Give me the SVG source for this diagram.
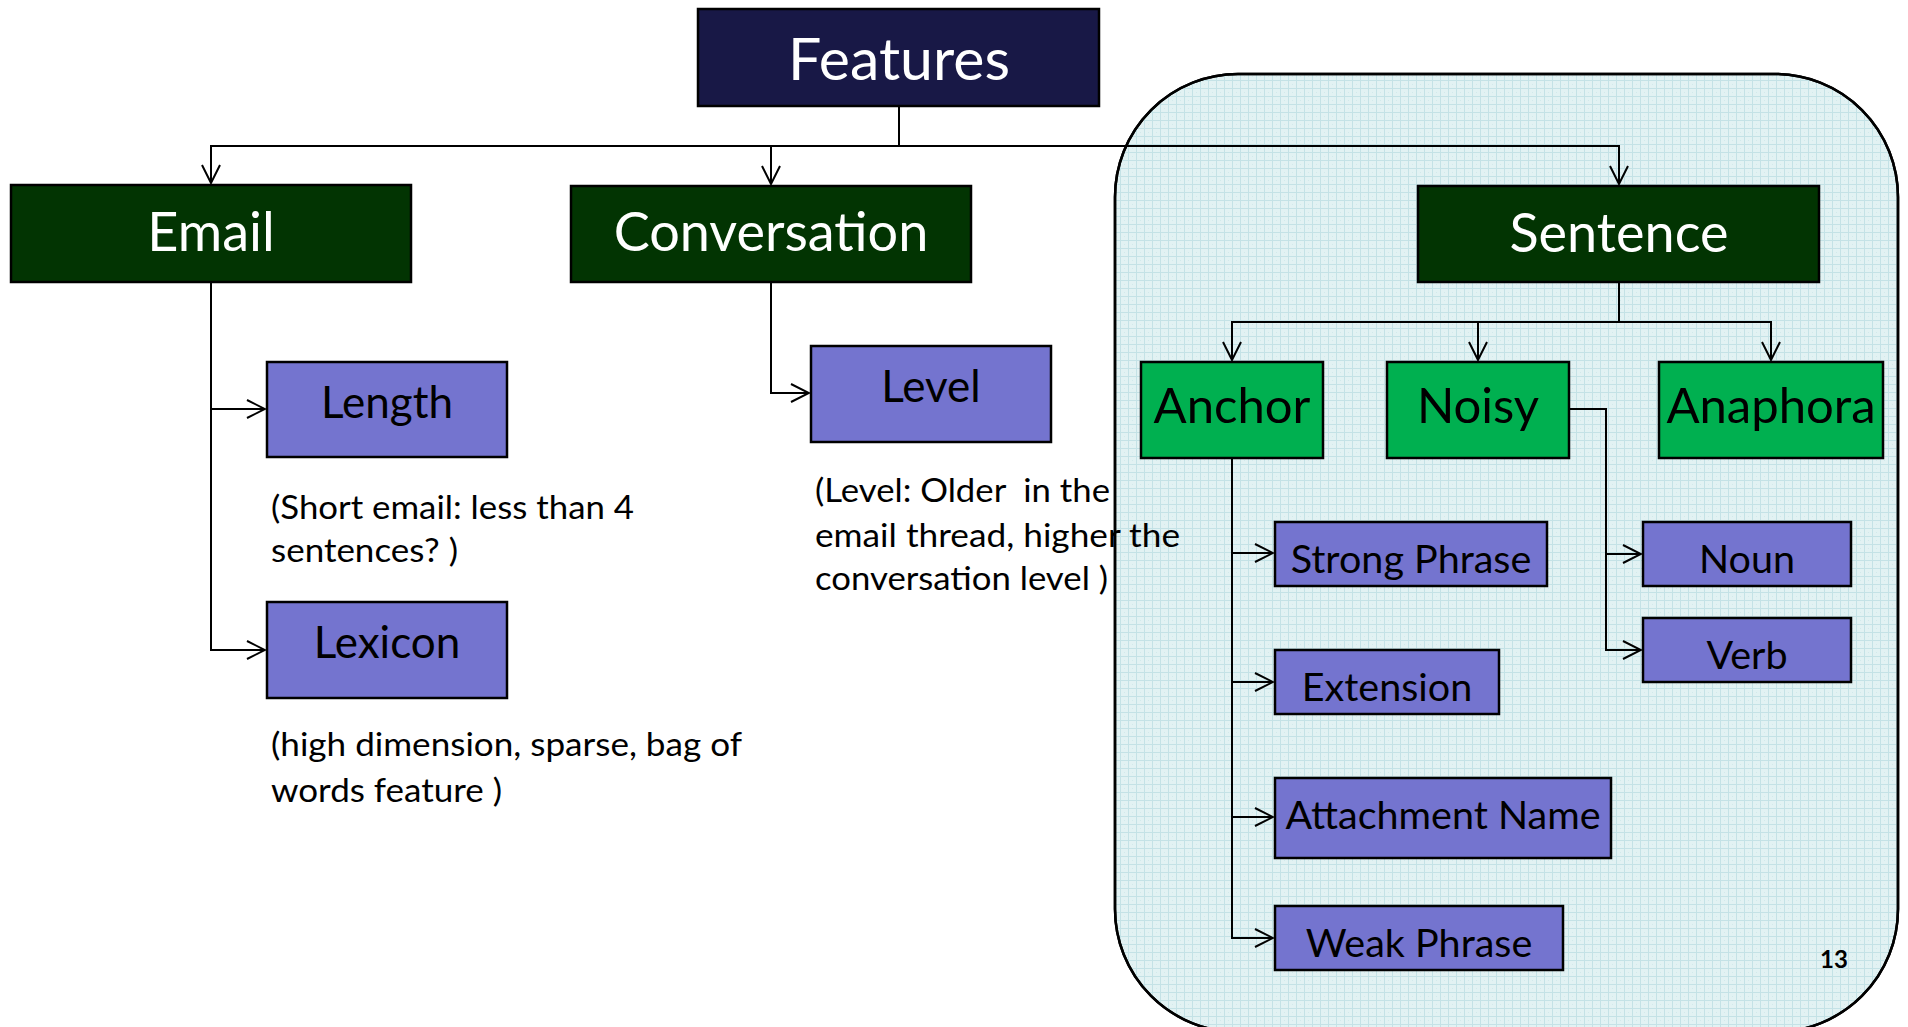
<svg xmlns="http://www.w3.org/2000/svg" width="1908" height="1027" viewBox="0 0 1908 1027">
<style>
.b{stroke:#000;stroke-width:2.5}
.top{fill:#181846}
.dg{fill:#023402}
.lg{fill:#00b050}
.pu{fill:#7474cf}
.t{font-family:Lato,"Open Sans",sans-serif;text-anchor:middle}
.w{fill:#fff}
.k{fill:#000}
.ann{font-family:Lato,"Open Sans",sans-serif;font-size:33px;fill:#000}
.c{fill:none;stroke:#000;stroke-width:2}
</style>
<defs>
<pattern id="grid" width="8" height="8" patternUnits="userSpaceOnUse">
<rect width="8" height="8" fill="#e2f2f3"/>
<path d="M0,0.5 H8 M0.5,0 V8" stroke="#c4e2e6" stroke-width="1"/>
<rect x="4" y="4" width="1" height="1" fill="#d2eaec"/>
</pattern>
<marker id="ah" viewBox="-20 -11 22 22" refX="0" refY="0" markerWidth="22" markerHeight="22" markerUnits="userSpaceOnUse" orient="auto">
<path d="M-18,-9 L0,0 L-18,9" fill="none" stroke="#000" stroke-width="2"/>
</marker>
<rect id="panelShape" x="1115" y="74" width="783" height="958" rx="123" ry="123"/>
</defs>
<rect width="1908" height="1027" fill="#fff"/>
<use href="#panelShape" fill="url(#grid)" stroke="#000" stroke-width="2.5"/>
<g id="annotations">
<text class="ann" x="271" y="519" textLength="363" lengthAdjust="spacingAndGlyphs">(Short email: less than 4</text>
<text class="ann" x="271" y="562" textLength="187" lengthAdjust="spacingAndGlyphs">sentences? )</text>
<text class="ann" x="271" y="756" textLength="471" lengthAdjust="spacingAndGlyphs">(high dimension, sparse, bag of</text>
<text class="ann" x="271" y="802" textLength="231" lengthAdjust="spacingAndGlyphs">words feature )</text>
<text class="ann" x="815" y="502" textLength="295" lengthAdjust="spacingAndGlyphs" xml:space="preserve">(Level: Older  in the</text>
<text class="ann" x="815" y="547" textLength="365" lengthAdjust="spacingAndGlyphs">email thread, higher the</text>
<text class="ann" x="815" y="590" textLength="293" lengthAdjust="spacingAndGlyphs">conversation level )</text>
</g>
<use id="panel-border" href="#panelShape" fill="none" stroke="#000" stroke-width="2.5"/>
<g id="connectors">
<path class="c" d="M899,106 V146 H211 V183" marker-end="url(#ah)"/>
<path class="c" d="M899,146 H771 V184" marker-end="url(#ah)"/>
<path class="c" d="M899,146 H1619 V184" marker-end="url(#ah)"/>
<path class="c" d="M211,282 V409 H265" marker-end="url(#ah)"/>
<path class="c" d="M211,409 V650 H265" marker-end="url(#ah)"/>
<path class="c" d="M771,282 V393 H809" marker-end="url(#ah)"/>
<path class="c" d="M1619,282 V322 H1232 V360" marker-end="url(#ah)"/>
<path class="c" d="M1478,322 V360" marker-end="url(#ah)"/>
<path class="c" d="M1619,322 H1771 V360" marker-end="url(#ah)"/>
<path class="c" d="M1232,458 V553 H1273" marker-end="url(#ah)"/>
<path class="c" d="M1232,553 V682 H1273" marker-end="url(#ah)"/>
<path class="c" d="M1232,682 V817 H1273" marker-end="url(#ah)"/>
<path class="c" d="M1232,817 V938 H1273" marker-end="url(#ah)"/>
<path class="c" d="M1569,409 H1606 V554 H1641" marker-end="url(#ah)"/>
<path class="c" d="M1606,554 V650 H1641" marker-end="url(#ah)"/>
</g>
<g id="features"><rect class="top b" x="698" y="9" width="401" height="97"/><text class="t w" x="899" y="80" font-size="59">Features</text></g>
<g id="email"><rect class="dg b" x="11" y="185" width="400" height="97"/><text class="t w" x="211" y="251" font-size="54">Email</text></g>
<g id="conversation"><rect class="dg b" x="571" y="186" width="400" height="96"/><text class="t w" x="771" y="251" font-size="54">Conversation</text></g>
<g id="sentence"><rect class="dg b" x="1418" y="186" width="401" height="96"/><text class="t w" x="1619" y="252" font-size="54">Sentence</text></g>
<g id="length"><rect class="pu b" x="267" y="362" width="240" height="95"/><text class="t k" x="387" y="418" font-size="44">Length</text></g>
<g id="lexicon"><rect class="pu b" x="267" y="602" width="240" height="96"/><text class="t k" x="387" y="658" font-size="44">Lexicon</text></g>
<g id="level"><rect class="pu b" x="811" y="346" width="240" height="96"/><text class="t k" x="931" y="402" font-size="44">Level</text></g>
<g id="anchor"><rect class="lg b" x="1141" y="362" width="182" height="96"/><text class="t k" x="1232" y="423" font-size="49">Anchor</text></g>
<g id="noisy"><rect class="lg b" x="1387" y="362" width="182" height="96"/><text class="t k" x="1478" y="423" font-size="49">Noisy</text></g>
<g id="anaphora"><rect class="lg b" x="1659" y="362" width="224" height="96"/><text class="t k" x="1771" y="423" font-size="49">Anaphora</text></g>
<g id="strong-phrase"><rect class="pu b" x="1275" y="522" width="272" height="64"/><text class="t k" x="1411" y="573" font-size="39.5">Strong Phrase</text></g>
<g id="extension"><rect class="pu b" x="1275" y="650" width="224" height="64"/><text class="t k" x="1387" y="701" font-size="39.5">Extension</text></g>
<g id="attachment-name"><rect class="pu b" x="1275" y="778" width="336" height="80"/><text class="t k" x="1443" y="829" font-size="39.5">Attachment Name</text></g>
<g id="weak-phrase"><rect class="pu b" x="1275" y="906" width="288" height="64"/><text class="t k" x="1419" y="957" font-size="39.5">Weak Phrase</text></g>
<g id="noun"><rect class="pu b" x="1643" y="522" width="208" height="64"/><text class="t k" x="1747" y="573" font-size="39.5">Noun</text></g>
<g id="verb"><rect class="pu b" x="1643" y="618" width="208" height="64"/><text class="t k" x="1747" y="669" font-size="39.5">Verb</text></g>
<text id="page-number" x="1834" y="968" font-family="Lato,'Open Sans',sans-serif" font-weight="bold" font-size="24" text-anchor="middle" fill="#000">13</text>
</svg>
